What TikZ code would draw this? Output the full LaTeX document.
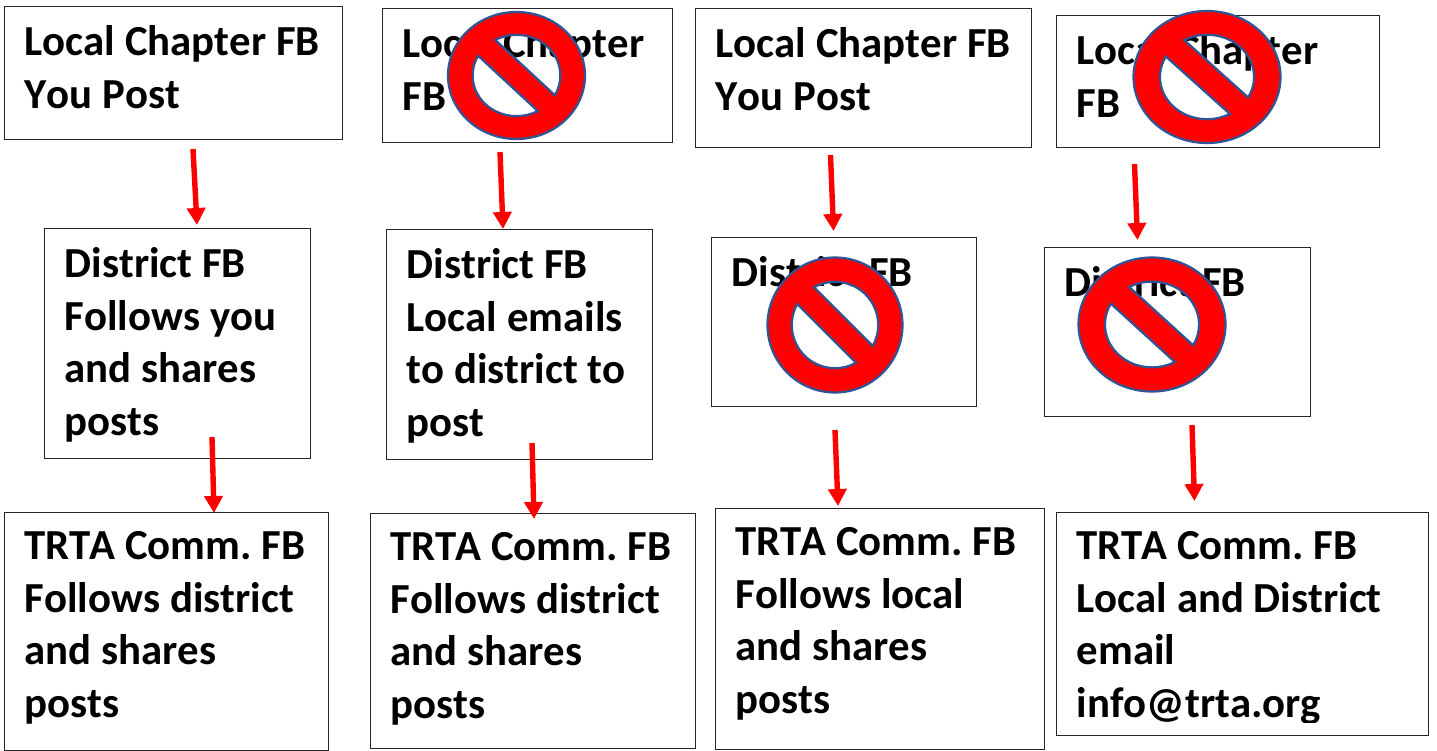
\documentclass[tikz,border=0pt]{standalone}
\usepackage{fontspec}
\setmainfont{Carlito}[Kerning=Off]
\usetikzlibrary{arrows.meta}
\newcommand{\commline}{TRT\kern-1.5pt A Comm.\ FB}
\tikzset{
    box/.style={draw=black!85, line width=1.4pt, fill=white, anchor=north west, inner sep=0pt},
    txt/.style={anchor=north west, align=left, inner sep=0pt, font=\fontsize{42.8}{52.5}\selectfont\bfseries, xshift=20.5pt, yshift=-19.5pt},
    flow/.style={draw=red, line width=5.4pt, -{Triangle[length=17pt,width=18pt]}},
    forbid/.pic={
        \draw[fill=red, draw=stopblue, line width=2.2pt, even odd rule]
            (0,0) circle[radius=1]
            (-119:.64) arc[start angle=-119, end angle=29, radius=.64] -- cycle
            (-151:.64) arc[start angle=-151, end angle=-299, radius=.64] -- cycle;
    }
}
\definecolor{stopblue}{HTML}{2F5597}
\begin{document}
\begin{tikzpicture}[x=1pt,y=-1pt]
\useasboundingbox (0,0) rectangle (1437,751);

%boxes
\node[box, minimum width=338pt, minimum height=133pt] (local1) at (4,6) {};
\node[box, minimum width=290pt, minimum height=134pt] (local2) at (382,8) {};
\node[box, minimum width=336pt, minimum height=139pt] (local3) at (695,8) {};
\node[box, minimum width=323pt, minimum height=132pt] (local4) at (1056,15) {};
\node[box, minimum width=266pt, minimum height=230pt] (dist1) at (44,228) {};
\node[box, minimum width=266pt, minimum height=230pt] (dist2) at (386,229) {};
\node[box, minimum width=265pt, minimum height=169pt] (dist3) at (711,237) {};
\node[box, minimum width=266pt, minimum height=169pt] (dist4) at (1044,247) {};
\node[box, minimum width=324pt, minimum height=238pt] (comm1) at (4,512) {};
\node[box, minimum width=325pt, minimum height=235pt] (comm2) at (370,513) {};
\node[box, minimum width=329pt, minimum height=241pt] (comm3) at (715,508) {};
\node[box, minimum width=372pt, minimum height=223pt] (comm4) at (1056,512) {};

%texts
\node[txt] (tl1) at (local1.north west) {Local Chapter FB\\You Post};
\node[txt] (tl2) at (local2.north west) {Local Chapter\\FB};
\node[txt] (tl3) at (local3.north west) {Local Chapter FB\\You Post};
\node[txt] (tl4) at (local4.north west) {Local Chapter\\FB};
\node[txt] (td1) at (dist1.north west) {District FB\\Follows you\\and shares\\posts};
\node[txt] (td2) at (dist2.north west) {District FB\\Local emails\\to district to\\post};
\node[txt] (td3) at (dist3.north west) {District FB};
\node[txt] (td4) at (dist4.north west) {District FB};
\node[txt] (tc1) at (comm1.north west) {\commline\\Follows district\\and shares\\posts};
\node[txt] (tc2) at (comm2.north west) {\commline\\Follows district\\and shares\\posts};
\node[txt] (tc3) at (comm3.north west) {\commline\\Follows local\\and shares\\posts};
\begin{scope}
\clip (1056,512) rectangle (1428,722);
\node[txt] (tc4) at (comm4.north west) {\commline\\Local and District\\email\\info@trta.org};
\end{scope}

%arrows
\coordinate (a1) at (193,149);
\coordinate (b1) at (197,225);
\coordinate (a2) at (500,152);
\coordinate (b2) at (503,229);
\coordinate (a3) at (830.5,155);
\coordinate (b3) at (833.5,231);
\coordinate (a4) at (1134.5,164);
\coordinate (b4) at (1137.5,240);
\coordinate (c1) at (212,437);
\coordinate (d1) at (214,513);
\coordinate (c2) at (532,443);
\coordinate (d2) at (534,519);
\coordinate (c3) at (835,430);
\coordinate (d3) at (838,506);
\coordinate (c4) at (1192,425);
\coordinate (d4) at (1194.5,501);
\foreach \i in {1,2,3,4}{
    \draw[flow] (a\i) -- (b\i);
    \draw[flow] (c\i) -- (d\i);
}

%stop signs
\coordinate (stop1) at (516.5,75.5);
\coordinate (stop2) at (835,325);
\coordinate (stop3) at (1207,77);
\coordinate (stop4) at (1152,324.5);
\pic[xscale=68.5,yscale=63.5] at (stop1) {forbid};
\pic[xscale=67.5,yscale=67.5] at (stop2) {forbid};
\pic[xscale=73.5,yscale=66] at (stop3) {forbid};
\pic[xscale=73.5,yscale=67] at (stop4) {forbid};
\end{tikzpicture}
\end{document}
